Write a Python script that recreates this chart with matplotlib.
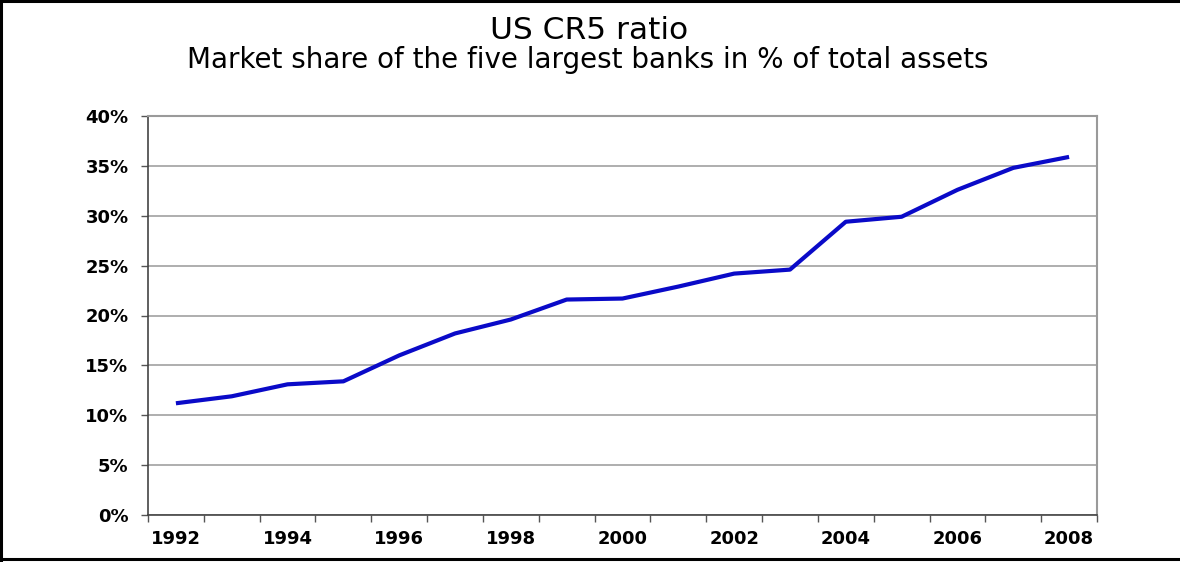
import numpy as np
import matplotlib.pyplot as plt
from matplotlib.lines import Line2D
from matplotlib.ticker import FixedLocator, FuncFormatter

plt.rcParams['font.family'] = ['DejaVu Sans']

years = list(range(1992, 2009))
cr5 = [11.2, 11.9, 13.1, 13.4, 16.0, 18.2, 19.6, 21.6, 21.7, 22.9,
       24.2, 24.6, 29.4, 29.9, 32.6, 34.8, 35.9]
year_labels = ['1992', '1994', '1996', '1998', '2000', '2002', '2004', '2006', '2008']

fig = plt.figure(figsize=(11.8, 5.62), dpi=100)
ax = fig.add_axes([148 / 1180, 1 - 515 / 562, (1097 - 148) / 1180, (515 - 116) / 562])

x = np.arange(len(years))
ax.plot(x, cr5, color='#0a0ac8', lw=3.0, solid_capstyle='butt', zorder=3)

ax.set_xlim(-0.5, len(years) - 0.5)
ax.set_ylim(0, 40)

# y axis
ax.set_yticks(np.arange(0, 41, 5))
ax.yaxis.set_major_formatter(FuncFormatter(lambda v, p: '%d%%' % v))
ax.grid(axis='y', color='#a8a8a8', lw=1.3, zorder=1)

# x axis: ticks between categories, labels every other year
ax.xaxis.set_major_locator(FixedLocator(x[::2]))
ax.set_xticklabels(year_labels)
ax.xaxis.set_minor_locator(FixedLocator(np.arange(-0.5, len(years), 1.0)))
ax.tick_params(axis='x', which='major', length=0, pad=11)
ax.tick_params(axis='x', which='minor', length=5, width=1, color='#555555', direction='out')
ax.tick_params(axis='y', length=5, width=1, color='#555555', direction='out', pad=9)

for lab in ax.get_xticklabels() + ax.get_yticklabels():
    lab.set_fontsize(13)
    lab.set_fontweight('bold')

for s in ['left', 'bottom']:
    ax.spines[s].set_color('#444444')
    ax.spines[s].set_linewidth(1.2)
for s in ['top', 'right']:
    ax.spines[s].set_color('#9a9a9a')
    ax.spines[s].set_linewidth(1.5)

fig.text(589 / 1180, 1 - 39 / 562, 'US CR5 ratio', ha='center', va='baseline', fontsize=22.5)
fig.text(588 / 1180, 1 - 68 / 562, 'Market share of the five largest banks in % of total assets',
         ha='center', va='baseline', fontsize=20)

# black frame on top, left and bottom
for xs, ys in [([0, 1], [1 - 1.2 / 562, 1 - 1.2 / 562]),
               ([1.2 / 1180, 1.2 / 1180], [0, 1]),
               ([0, 1], [3 / 562, 3 / 562])]:
    fig.add_artist(Line2D(xs, ys, transform=fig.transFigure, color='black', lw=2.2))

fig.savefig('out.png', dpi=100)
